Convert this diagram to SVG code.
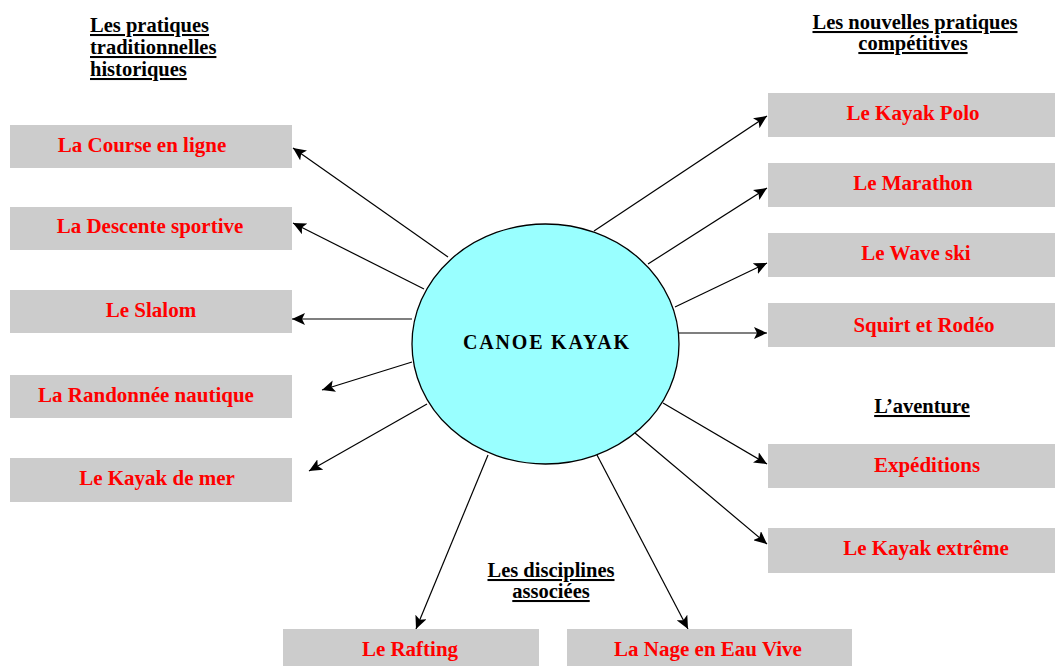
<svg xmlns="http://www.w3.org/2000/svg" width="1055" height="666" viewBox="0 0 1055 666">
<style>
.box{fill:#CCCCCC;}
.lbl{font-family:"Liberation Serif","Times New Roman",serif;font-weight:bold;font-size:21px;fill:#FF0000;text-anchor:middle;}
.hd{font-family:"Liberation Serif","Times New Roman",serif;font-weight:bold;font-size:20.5px;fill:#000;text-decoration:underline;}
.con{stroke:#000;stroke-width:1.2;fill:none;marker-end:url(#ah);}
</style>
<defs>
<marker id="ah" markerUnits="userSpaceOnUse" markerWidth="14" markerHeight="12" refX="13" refY="6" orient="auto">
<path d="M0,0 L13,6 L0,12 L3,6 z" fill="#000"/>
</marker>
</defs>
<rect width="1055" height="666" fill="#fff"/>
<g id="headings">
<text class="hd" x="90" y="32">Les pratiques</text>
<text class="hd" x="90" y="54">traditionnelles</text>
<text class="hd" x="90" y="76">historiques</text>
<text class="hd" x="915" y="29" text-anchor="middle">Les nouvelles pratiques</text>
<text class="hd" x="913" y="50" text-anchor="middle">compétitives</text>
<text class="hd" x="922" y="413" text-anchor="middle">L’aventure</text>
<text class="hd" x="551" y="577" text-anchor="middle">Les disciplines</text>
<text class="hd" x="551" y="598" text-anchor="middle">associées</text>
</g>
<g id="connectors">
<line class="con" x1="448" y1="257" x2="293" y2="148"/>
<line class="con" x1="424" y1="289" x2="293" y2="223"/>
<line class="con" x1="412" y1="319" x2="292" y2="319"/>
<line class="con" x1="412" y1="362" x2="322" y2="390"/>
<line class="con" x1="427" y1="404" x2="309" y2="471"/>
<line class="con" x1="594" y1="231" x2="767" y2="116"/>
<line class="con" x1="648" y1="264" x2="767" y2="188"/>
<line class="con" x1="675" y1="307" x2="767" y2="263"/>
<line class="con" x1="679" y1="333" x2="767" y2="333"/>
<line class="con" x1="663" y1="403" x2="767" y2="464"/>
<line class="con" x1="635" y1="433" x2="767" y2="544"/>
<line class="con" x1="488" y1="455" x2="416" y2="629"/>
<line class="con" x1="597" y1="455" x2="688" y2="629"/>
</g>
<g id="center">
<ellipse cx="545.5" cy="344" rx="133.5" ry="120" fill="#99FFFF" stroke="#000" stroke-width="1.3"/>
<text x="547" y="349" font-family="'Liberation Serif','Times New Roman',serif" font-weight="bold" font-size="20" letter-spacing="1.8" text-anchor="middle" fill="#000">CANOE KAYAK</text>
</g>
<g id="n-course"><rect class="box" x="10" y="125" width="282" height="43"/><text class="lbl" x="142" y="152">La Course en ligne</text></g>
<g id="n-descente"><rect class="box" x="10" y="207" width="282" height="43"/><text class="lbl" x="150" y="233">La Descente sportive</text></g>
<g id="n-slalom"><rect class="box" x="10" y="290" width="282" height="43"/><text class="lbl" x="151" y="317">Le Slalom</text></g>
<g id="n-randonnee"><rect class="box" x="10" y="375" width="282" height="43"/><text class="lbl" x="146" y="402">La Randonnée nautique</text></g>
<g id="n-mer"><rect class="box" x="10" y="458" width="282" height="44"/><text class="lbl" x="157" y="485">Le Kayak de mer</text></g>
<g id="n-polo"><rect class="box" x="768" y="93" width="287" height="44"/><text class="lbl" x="913" y="120">Le Kayak Polo</text></g>
<g id="n-marathon"><rect class="box" x="768" y="163" width="287" height="44"/><text class="lbl" x="913" y="190">Le Marathon</text></g>
<g id="n-waveski"><rect class="box" x="768" y="233" width="287" height="44"/><text class="lbl" x="916" y="260">Le  Wave ski</text></g>
<g id="n-squirt"><rect class="box" x="768" y="303" width="287" height="44"/><text class="lbl" x="924" y="332">Squirt et Rodéo</text></g>
<g id="n-expeditions"><rect class="box" x="768" y="444" width="287" height="44"/><text class="lbl" x="927" y="472">Expéditions</text></g>
<g id="n-extreme"><rect class="box" x="768" y="528" width="287" height="45"/><text class="lbl" x="926" y="555">Le Kayak extrême</text></g>
<g id="n-rafting"><rect class="box" x="283" y="629" width="256" height="37"/><text class="lbl" x="410" y="656">Le Rafting</text></g>
<g id="n-nage"><rect class="box" x="567" y="629" width="285" height="37"/><text class="lbl" x="708" y="656">La Nage en Eau Vive</text></g>
</svg>
